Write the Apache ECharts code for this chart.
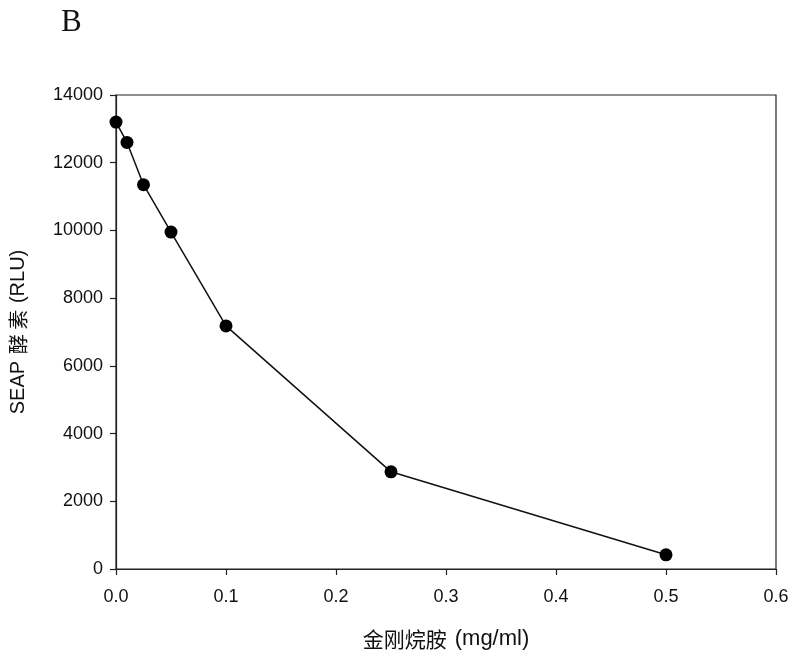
<!DOCTYPE html>
<html><head><meta charset="utf-8">
<script src="https://cdn.jsdelivr.net/npm/echarts@6/dist/echarts.min.js"></script>
<style>html,body{margin:0;padding:0;background:#fff}#c{width:795px;height:658px}</style>
</head><body><div id="c"></div>
<script>
const xValues = [0, 0.01, 0.025, 0.05, 0.1, 0.25, 0.5];
const yValues = [13200, 12600, 11350, 9950, 7180, 2870, 420];
const xTicks = [0.0, 0.1, 0.2, 0.3, 0.4, 0.5, 0.6];
const yTicks = [0, 2000, 4000, 6000, 8000, 10000, 12000, 14000];
const xTitleCJK = '金刚烷胺';
const xTitleUnit = '(mg/ml)';
const yTitleA = 'SEAP';
const yTitleCJK = '酵 素';
const yTitleUnit = '(RLU)';
const panelLabel = 'B';

const chart = echarts.init(document.getElementById('c'), null, {renderer: 'canvas'});
const fontFam = '"Liberation Sans", Arial, "Noto Sans CJK SC", sans-serif';
const cjkFam = '"Noto Sans CJK SC", sans-serif';
chart.setOption({
  animation: false,
  backgroundColor: '#fff',
  title: {text: panelLabel, left: 56, top: 2, textStyle: {fontFamily: '"Liberation Serif","DejaVu Serif",serif', fontWeight: 'normal', fontSize: 31, color: '#111'}},
  grid: {left: 116, right: 19, top: 95, bottom: 89, show: true, borderColor: '#222', borderWidth: 1.2, backgroundColor: 'transparent', containLabel: false, outerBoundsMode: 'none'},
  xAxis: {
    type: 'value', min: 0, max: 0.6, interval: 0.1,
    name: '{c|' + xTitleCJK + '}{s| }{a|' + xTitleUnit + '}', nameLocation: 'middle', nameGap: 59,
    nameTextStyle: {
      rich: {
        a: {fontFamily: fontFam, fontSize: 22, color: '#111'},
        s: {fontFamily: fontFam, fontSize: 22, color: '#111', width: 8},
        c: {fontFamily: cjkFam, fontSize: 21, color: '#111'}
      }
    },
    axisLine: {show: true, onZero: false, lineStyle: {color: '#222', width: 1.2}},
    axisTick: {show: true, inside: false, length: 6, lineStyle: {color: '#222', width: 1.2}},
    splitLine: {show: false},
    axisLabel: {fontFamily: fontFam, fontSize: 18, color: '#111', margin: 19, formatter: v => v.toFixed(1)}
  },
  yAxis: {
    type: 'value', min: 0, max: 14000, interval: 2000,
    name: '{a|' + yTitleA + '}  {c|' + yTitleCJK + '}  {a|' + yTitleUnit + '}', nameLocation: 'middle', nameGap: 88, nameRotate: 90,
    nameTextStyle: {
      rich: {
        a: {fontFamily: fontFam, fontSize: 20, color: '#111'},
        c: {fontFamily: cjkFam, fontSize: 20, color: '#111'}
      }
    },
    axisLine: {show: true, lineStyle: {color: '#222', width: 1.2}},
    axisTick: {show: true, inside: false, length: 6, lineStyle: {color: '#222', width: 1.2}},
    splitLine: {show: false},
    axisLabel: {fontFamily: fontFam, fontSize: 18, color: '#111', margin: 13, formatter: v => String(v)}
  },
  series: [{
    type: 'line',
    data: xValues.map((x, i) => [x, yValues[i]]),
    symbol: 'circle', symbolSize: 13,
    itemStyle: {color: '#000'},
    lineStyle: {color: '#111', width: 1.5},
    clip: false
  }]
});
</script></body></html>
